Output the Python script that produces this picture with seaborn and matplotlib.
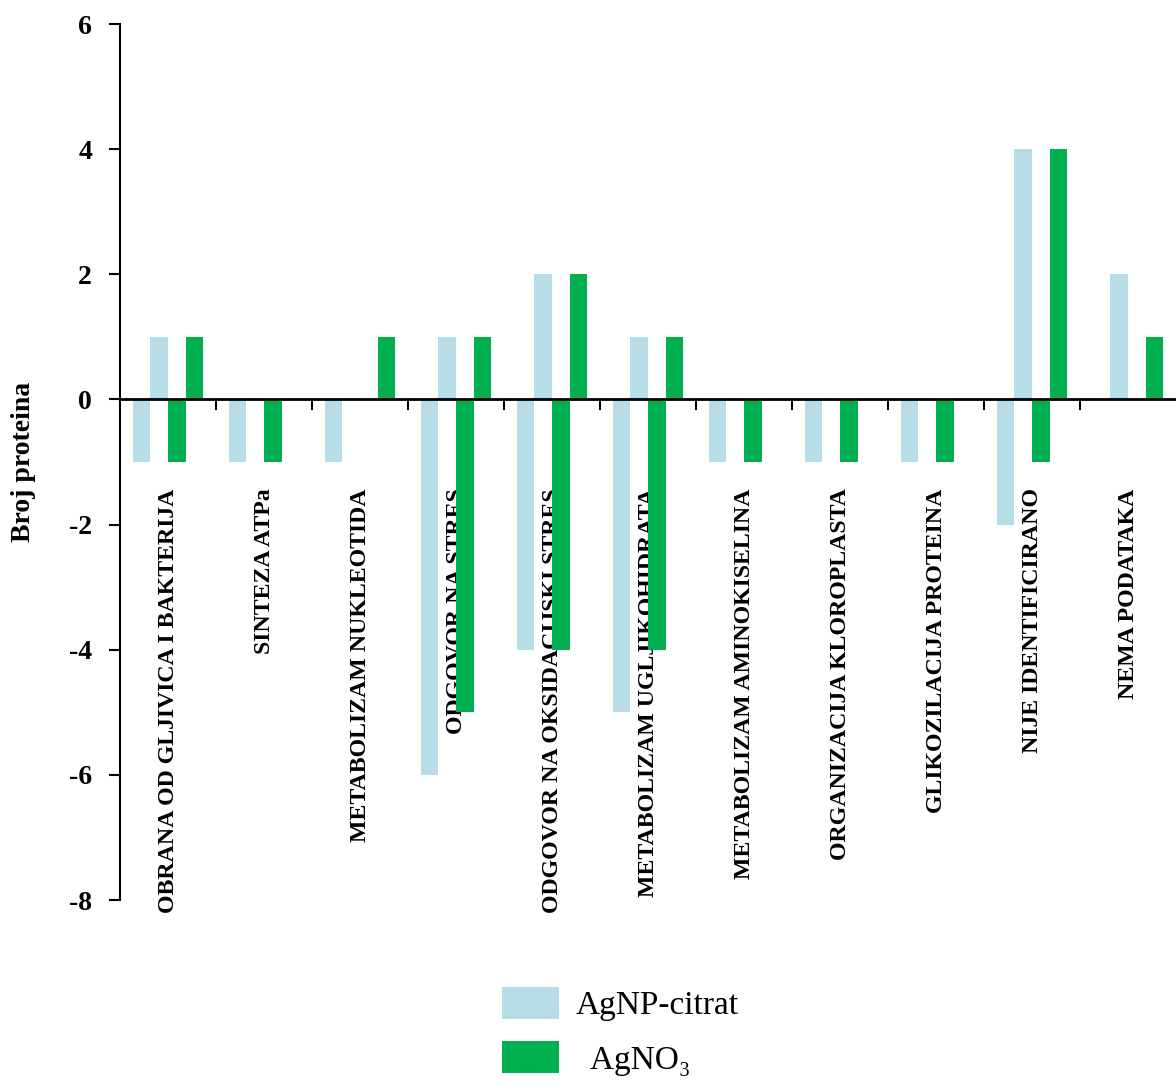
import matplotlib
matplotlib.use("Agg")
import matplotlib.pyplot as plt
from matplotlib.patches import Patch
from matplotlib.ticker import FixedLocator
import seaborn as sns
import pandas as pd

# data ---------------------------------------------------------------------------------------------
kategorije = ["OBRANA OD GLJIVICA I BAKTERIJA", "SINTEZA ATPa", "METABOLIZAM NUKLEOTIDA",
              "ODGOVOR NA STRES", "ODGOVOR NA OKSIDACIJSKI STRES", "METABOLIZAM UGLJIKOHIDRATA",
              "METABOLIZAM AMINOKISELINA", "ORGANIZACIJA KLOROPLASTA", "GLIKOZILACIJA PROTEINA",
              "NIJE IDENTIFICIRANO", "NEMA PODATAKA"]
agnp_dolje = [-1, -1, -1, -6, -4, -5, -1, -1, -1, -2, 0]
agnp_gore = [1, 0, 0, 1, 2, 1, 0, 0, 0, 4, 2]
agno3_dolje = [-1, -1, 0, -5, -4, -4, -1, -1, -1, -1, 0]
agno3_gore = [1, 0, 1, 1, 2, 1, 0, 0, 0, 4, 1]
y_ticks = [-8, -6, -4, -2, 0, 2, 4, 6]

serije = {"AgNP-citrat dolje": agnp_dolje, "AgNP-citrat gore": agnp_gore,
          "AgNO3 dolje": agno3_dolje, "AgNO3 gore": agno3_gore}
rows = []
for name, vals in serije.items():
    for k, v in zip(kategorije, vals):
        rows.append({"kategorija": k, "serija": name, "broj": v})
df = pd.DataFrame(rows)

plava = "#B7DDE8"
zelena = "#00B050"
paleta = {"AgNP-citrat dolje": plava, "AgNP-citrat gore": plava,
          "AgNO3 dolje": zelena, "AgNO3 gore": zelena}

# plot ---------------------------------------------------------------------------------------------
sns.set_style("white")
plt.rcParams["font.family"] = ["Liberation Serif", "DejaVu Serif"]
plt.rcParams["axes.unicode_minus"] = False
plt.rcParams["text.color"] = "black"
plt.rcParams["xtick.color"] = "black"
plt.rcParams["ytick.color"] = "black"
plt.rcParams["axes.labelcolor"] = "black"

fig = plt.figure(figsize=(11.76, 10.86), dpi=100)
ax = fig.add_axes([120 / 1176, 186 / 1086, 1056 / 1176, 876 / 1086])

sns.barplot(data=df, x="kategorija", y="broj", hue="serija", palette=paleta, saturation=1,
            width=0.73, linewidth=0, legend=False, ax=ax)

ax.set_xlim(-0.5, 10.5)
ax.set_ylim(-8, 6)
ax.spines["top"].set_visible(False)
ax.spines["right"].set_visible(False)
ax.spines["bottom"].set_position(("data", 0))
ax.spines["bottom"].set_linewidth(2)
ax.spines["left"].set_linewidth(1.5)
ax.spines["bottom"].set_color("black")
ax.spines["left"].set_color("black")

ax.set_yticks(y_ticks)
ax.set_yticklabels([str(t) for t in y_ticks], fontsize=20, fontweight="bold")
ax.tick_params(axis="y", direction="out", length=8, width=1.5, left=True, pad=12)

ax.set_xticks(range(len(kategorije)))
ax.set_xticklabels(kategorije, rotation=90, fontsize=17.2, fontweight="bold", va="top")
ax.tick_params(axis="x", which="major", length=0, pad=64)
ax.xaxis.set_minor_locator(FixedLocator([i + 0.5 for i in range(len(kategorije) - 1)]))
ax.tick_params(axis="x", which="minor", direction="out", length=8, width=1.5, bottom=True)

ax.set_xlabel("")
ax.set_ylabel("Broj proteina", fontsize=20, fontweight="bold")
ax.yaxis.set_label_coords(-0.08, 0.5)

handles = [Patch(facecolor=plava, edgecolor="none"), Patch(facecolor=zelena, edgecolor="none")]
fig.legend(handles, ["AgNP-citrat", "  AgNO₃"], loc="upper left",
           bbox_to_anchor=(472 / 1176, 1 - 957 / 1086), frameon=False,
           fontsize=24, handlelength=1.7, handleheight=1.1, labelspacing=0.6, handletextpad=0.5)

fig.savefig("out.png", dpi=100)
